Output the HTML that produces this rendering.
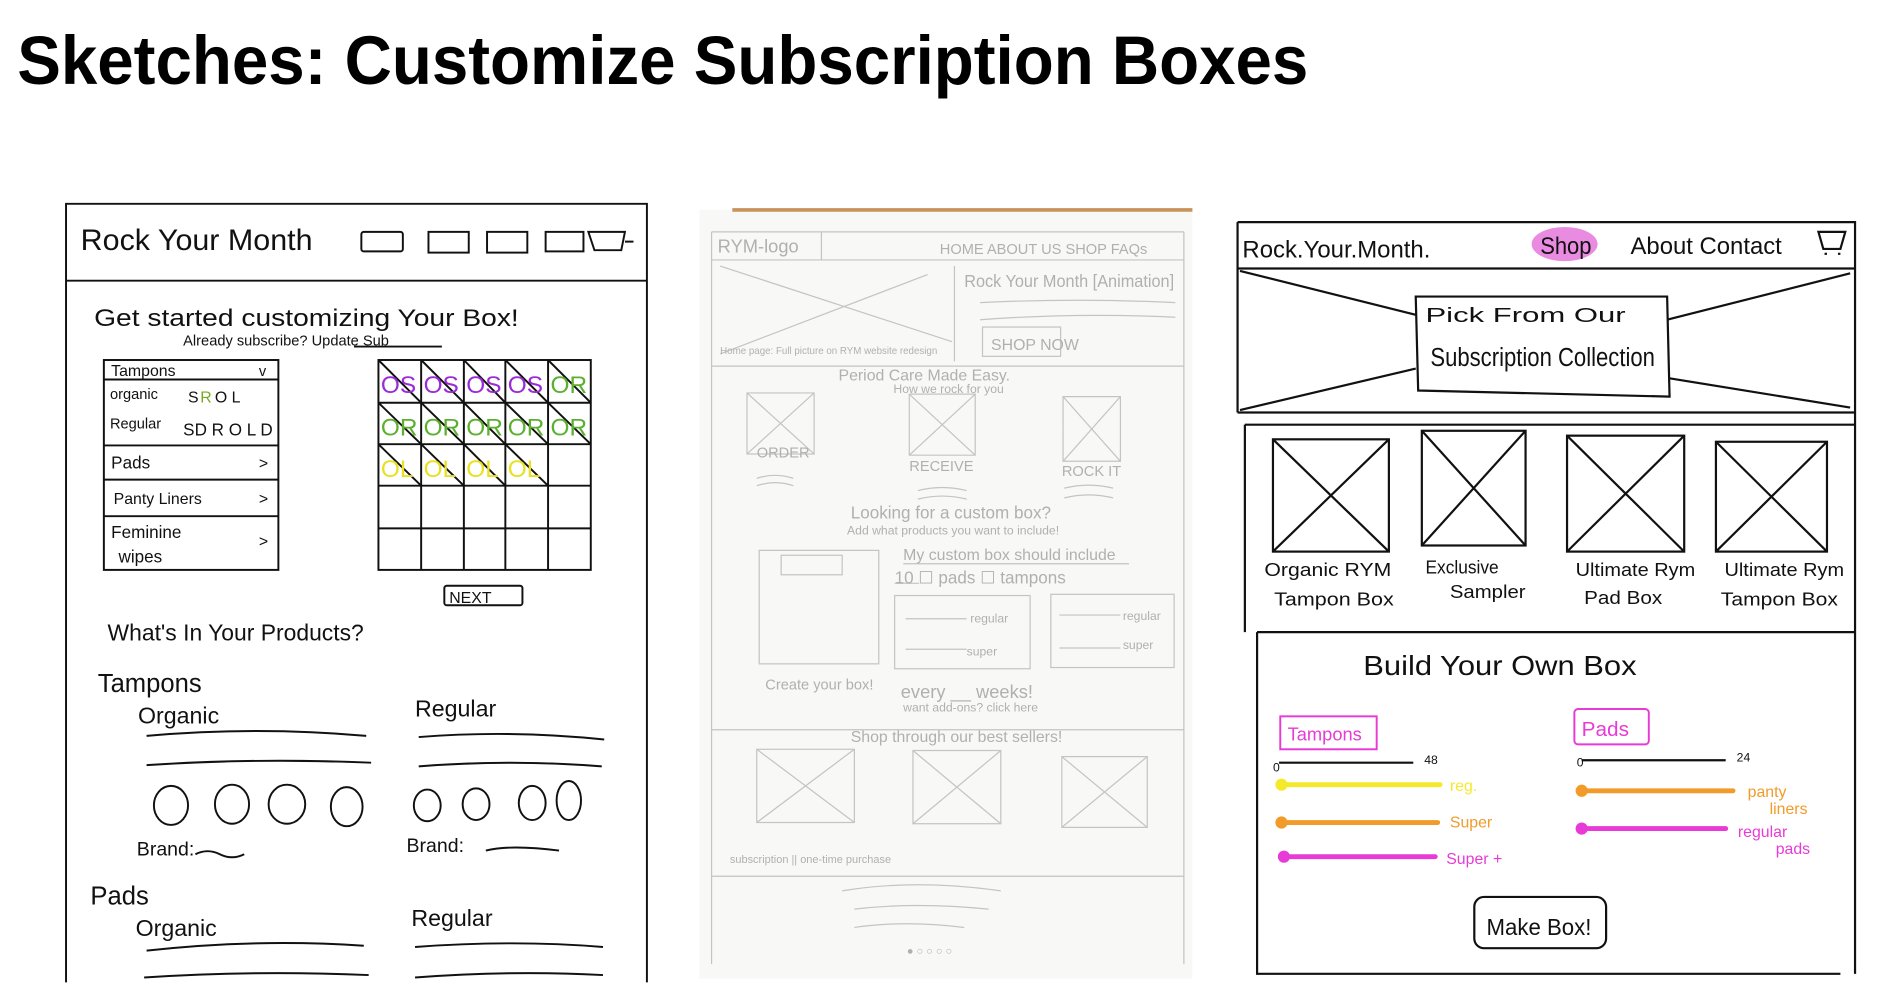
<!DOCTYPE html>
<html><head><meta charset="utf-8"><style>
html,body{margin:0;padding:0;background:#fff;width:1904px;height:1008px;overflow:hidden}
svg{display:block}
text{font-family:"Liberation Sans",sans-serif}
.h{font-family:"Liberation Sans Narrow","Liberation Sans",sans-serif}
</style></head><body>
<svg width="1904" height="1008" viewBox="0 0 1560 826" xmlns="http://www.w3.org/2000/svg">
<text x="14" y="69" font-size="56" font-weight="bold" textLength="1058" lengthAdjust="spacingAndGlyphs" fill="#000">Sketches: Customize Subscription Boxes</text>

<!-- Panel 1 -->
<g stroke="#111" fill="none" stroke-width="1.6">
<path d="M54 805V167H530V805"/><path d="M54 230H530"/>
<rect x="296" y="190" width="34" height="16" rx="2"/><rect x="351" y="190" width="33" height="17"/><rect x="399" y="190" width="33" height="17"/><rect x="447" y="190" width="31" height="16"/>
<path d="M482 190h30l-3 15h-22zM512 198h7"/>
<rect x="85" y="295" width="143" height="172"/><path d="M85 311H228M85 365H228M85 393H228M85 423H228"/>
<rect x="310" y="295" width="174" height="172"/>
<path d="M345 295V467M380 295V467M414 295V467M449 295V467M310 330H484M310 364H484M310 398H484M310 433H484"/>
<path d="M310 295l35 35M345 295l35 35M380 295l34 35M414 295l35 35M449 295l35 35M310 330l35 34M345 330l35 34M380 330l34 34M414 330l35 34M449 330l35 34M310 364l35 34M345 364l35 34M380 364l34 34M414 364l35 34"/>
<rect x="364" y="480" width="64" height="16" rx="2"/>
<path d="M120 603q90-8 180 0M120 627q90-6 184-2M343 604q75-6 152 2M343 628q75-6 150 0M120 779q90-10 178-4M118 801q90-6 184-2M340 776q80-6 154 0M340 801q80-6 154-2M290 284h72M160 700q10-5 20 0t20 0M398 697q20-5 60 0"/>
<ellipse cx="140" cy="660" rx="14" ry="16"/><ellipse cx="190" cy="659" rx="14" ry="16"/><ellipse cx="235" cy="659" rx="15" ry="16"/><ellipse cx="284" cy="661" rx="13" ry="16"/>
<ellipse cx="350" cy="660" rx="11" ry="13"/><ellipse cx="390" cy="659" rx="11" ry="13"/><ellipse cx="436" cy="658" rx="11" ry="14"/><ellipse cx="466" cy="656" rx="10" ry="16"/>
</g>
<g fill="#111" class="h">
<text x="66" y="205" font-size="24" textLength="190" lengthAdjust="spacingAndGlyphs">Rock Your Month</text>
<text x="77" y="267" font-size="20" textLength="348" lengthAdjust="spacingAndGlyphs">Get started customizing Your Box!</text>
<text x="150" y="283" font-size="12">Already subscribe?  Update Sub</text>
<text x="91" y="308" font-size="13">Tampons</text><text x="212" y="308" font-size="12">v</text>
<text x="90" y="327" font-size="12">organic</text><text x="154" y="330" font-size="13">S</text><text x="164" y="330" font-size="13" fill="#7a2">R</text><text x="176" y="330" font-size="13">O L</text>
<text x="90" y="351" font-size="12">Regular</text><text x="150" y="357" font-size="14">SD R O L D</text>
<text x="91" y="384" font-size="14">Pads</text><text x="212" y="384" font-size="13">&gt;</text>
<text x="93" y="413" font-size="13">Panty Liners</text><text x="212" y="413" font-size="13">&gt;</text>
<text x="91" y="441" font-size="14">Feminine</text><text x="97" y="461" font-size="14">wipes</text><text x="212" y="448" font-size="13">&gt;</text>
<text x="368" y="494" font-size="13">NEXT</text>
<text x="88" y="525" font-size="19" textLength="210" lengthAdjust="spacingAndGlyphs">What's In Your Products?</text>
<text x="80" y="567" font-size="21">Tampons</text>
<text x="113" y="593" font-size="19">Organic</text><text x="340" y="587" font-size="19">Regular</text>
<text x="112" y="701" font-size="16">Brand:</text><text x="333" y="698" font-size="16">Brand:</text>
<text x="74" y="741" font-size="21">Pads</text>
<text x="111" y="767" font-size="19">Organic</text><text x="337" y="759" font-size="19">Regular</text>
</g>
<g font-size="20" class="h">
<g fill="#9a2bd6"><text x="312" y="322">OS</text><text x="347" y="322">OS</text><text x="382" y="322">OS</text><text x="416" y="322">OS</text></g>
<g fill="#5cb030"><text x="451" y="322">OR</text><text x="312" y="357">OR</text><text x="347" y="357">OR</text><text x="382" y="357">OR</text><text x="416" y="357">OR</text><text x="451" y="357">OR</text></g>
<g fill="#e8e020"><text x="312" y="391">OL</text><text x="347" y="391">OL</text><text x="382" y="391">OL</text><text x="416" y="391">OL</text></g>
</g>

<!-- Panel 2 -->
<rect x="573" y="172" width="404" height="630" fill="#f8f8f7"/>
<path d="M600 172H977" stroke="#c8935a" stroke-width="3"/>
<g stroke="#c4c4c4" fill="none" stroke-width="1">
<path d="M583 190H970M583 213H970M583 300H970M583 598H970M583 718H970M583 190V790M970 190V790M673 190V213M782 218V296M590 218L780 280M590 290L760 225"/>
<rect x="805" y="268" width="64" height="24"/>
<path d="M803 248q80-4 160 0M803 262q80-6 160-2M612 322h55v50h-55zM612 322l55 50M667 322l-55 50M745 323h54v50h-54zM745 323l54 50M799 323l-54 50M871 325h47v53h-47zM871 325l47 53M918 325l-47 53"/>
<path d="M620 392q15-5 30 0M620 398q15-5 30 0M752 402q20-5 40 0M752 409q20-5 40 0M872 400q20-5 40 0M872 408q20-5 40 0"/>
<rect x="622" y="451" width="98" height="93"/><rect x="640" y="455" width="50" height="16"/>
<rect x="733" y="488" width="111" height="60"/><rect x="861" y="487" width="101" height="60"/>
<path d="M740 462H925M733 478h20M742 507h50M742 532h50M868 504h50M868 531h50"/>
<rect x="620" y="614" width="80" height="60"/><path d="M620 614l80 60M700 614l-80 60"/>
<rect x="748" y="615" width="72" height="60"/><path d="M748 615l72 60M820 615l-72 60"/>
<rect x="870" y="620" width="70" height="58"/><path d="M870 620l70 58M940 620l-70 58"/>
<path d="M690 730q60-10 130 0M700 745q50-6 110 0M700 760q40-6 90 0"/>
</g>
<g fill="#b0b0b0" class="h">
<text x="588" y="207" font-size="15">RYM-logo</text>
<text x="770" y="208" font-size="12">HOME  ABOUT US  SHOP  FAQs</text>
<text x="790" y="235" font-size="14" textLength="172" lengthAdjust="spacingAndGlyphs">Rock Your Month [Animation]</text>
<text x="812" y="287" font-size="13">SHOP NOW</text>
<text x="590" y="290" font-size="8">Home page: Full picture on RYM website redesign</text>
<text x="687" y="312" font-size="13">Period Care Made Easy.</text>
<text x="732" y="322" font-size="10">How we rock for you</text>
<text x="620" y="375" font-size="12">ORDER</text><text x="745" y="386" font-size="12">RECEIVE</text><text x="870" y="390" font-size="12">ROCK IT</text>
<text x="697" y="425" font-size="14">Looking for a custom box?</text>
<text x="694" y="438" font-size="10">Add what products you want to include!</text>
<text x="740" y="459" font-size="13">My custom box should include</text>
<text x="733" y="478" font-size="14">10   ☐ pads  ☐ tampons</text>
<text x="795" y="510" font-size="10">regular</text><text x="792" y="537" font-size="10">super</text>
<text x="920" y="508" font-size="10">regular</text><text x="920" y="532" font-size="10">super</text>
<text x="627" y="565" font-size="12">Create your box!</text>
<text x="738" y="572" font-size="15">every __ weeks!</text>
<text x="740" y="583" font-size="10">want add-ons? click here</text>
<text x="697" y="608" font-size="13">Shop through our best sellers!</text>
<text x="598" y="707" font-size="9">subscription || one-time purchase</text>
<text x="743" y="782" font-size="9">● ○ ○ ○ ○</text>
</g>

<!-- Panel 3 -->
<g stroke="#111" fill="none" stroke-width="1.8">
<path d="M1014 182H1520V798M1014 182V338M1014 220H1520M1014 338H1520M1020 348H1520M1020 348V518M1030 518H1520M1030 518V798H1508"/>
<path d="M1016 222L1160 258M1516 224L1366 262M1016 336L1160 302M1516 334L1368 310"/>
<path d="M1160 243L1366 243L1368 325L1162 320Z"/>
<rect x="1043" y="360" width="95" height="92"/><path d="M1043 360l95 92M1138 360l-95 92"/>
<rect x="1165" y="353" width="85" height="94"/><path d="M1165 353l85 94M1250 353l-85 94"/>
<rect x="1284" y="357" width="96" height="95"/><path d="M1284 357l96 95M1380 357l-96 95"/>
<rect x="1406" y="362" width="91" height="90"/><path d="M1406 362l91 90M1497 362l-91 90"/>
<rect x="1208" y="735" width="108" height="42" rx="8"/>
<path d="M1490 190h22l-4 14h-14zM1495 208h2M1506 208h2M1048 625h110M1296 623h118"/>
</g>
<ellipse cx="1282" cy="200" rx="27" ry="14" fill="#e98be0"/>
<g fill="#111" class="h">
<text x="1018" y="211" font-size="20" textLength="154" lengthAdjust="spacingAndGlyphs">Rock.Your.Month.</text>
<text x="1262" y="208" font-size="20" textLength="42" lengthAdjust="spacingAndGlyphs">Shop</text>
<text x="1336" y="208" font-size="20" textLength="124" lengthAdjust="spacingAndGlyphs">About  Contact</text>
<text x="1168" y="264" font-size="17" textLength="164" lengthAdjust="spacingAndGlyphs">Pick From Our</text>
<text x="1172" y="300" font-size="21" textLength="184" lengthAdjust="spacingAndGlyphs">Subscription Collection</text>
<text x="1036" y="472" font-size="15" textLength="104" lengthAdjust="spacingAndGlyphs">Organic RYM</text><text x="1044" y="496" font-size="15" textLength="98" lengthAdjust="spacingAndGlyphs">Tampon Box</text>
<text x="1168" y="470" font-size="15" textLength="60" lengthAdjust="spacingAndGlyphs">Exclusive</text><text x="1188" y="490" font-size="15" textLength="62" lengthAdjust="spacingAndGlyphs">Sampler</text>
<text x="1291" y="472" font-size="15" textLength="98" lengthAdjust="spacingAndGlyphs">Ultimate Rym</text><text x="1298" y="495" font-size="15" textLength="64" lengthAdjust="spacingAndGlyphs">Pad Box</text>
<text x="1413" y="472" font-size="15" textLength="98" lengthAdjust="spacingAndGlyphs">Ultimate Rym</text><text x="1410" y="496" font-size="15" textLength="96" lengthAdjust="spacingAndGlyphs">Tampon Box</text>
<text x="1117" y="553" font-size="23" textLength="224" lengthAdjust="spacingAndGlyphs">Build Your Own Box</text>
<text x="1043" y="632" font-size="10">0</text><text x="1167" y="626" font-size="10">48</text>
<text x="1292" y="628" font-size="10">0</text><text x="1423" y="624" font-size="10">24</text>
<text x="1218" y="766" font-size="19" textLength="86" lengthAdjust="spacingAndGlyphs">Make Box!</text>
</g>
<rect x="1049" y="587" width="79" height="27" fill="none" stroke="#e83ad6" stroke-width="1.6"/>
<text x="1055" y="607" font-size="15" fill="#e83ad6" class="h">Tampons</text>
<rect x="1290" y="581" width="61" height="29" rx="3" fill="none" stroke="#e83ad6" stroke-width="1.6"/>
<text x="1296" y="603" font-size="17" fill="#e83ad6" class="h">Pads</text>
<g stroke-width="4" stroke-linecap="round">
<path d="M1050 643H1180" stroke="#f5ea2a"/><circle cx="1050" cy="643" r="5" fill="#f5ea2a"/>
<path d="M1050 674H1178" stroke="#f29a2a"/><circle cx="1050" cy="674" r="5" fill="#f29a2a"/>
<path d="M1052 702H1176" stroke="#e83ad6"/><circle cx="1052" cy="702" r="5" fill="#e83ad6"/>
<path d="M1296 648H1420" stroke="#f29a2a"/><circle cx="1296" cy="648" r="5" fill="#f29a2a"/>
<path d="M1296 679H1414" stroke="#e83ad6"/><circle cx="1296" cy="679" r="5" fill="#e83ad6"/>
</g>
<g class="h" font-size="13">
<text x="1188" y="648" fill="#f5ea2a">reg.</text>
<text x="1188" y="678" fill="#f29a2a">Super</text>
<text x="1185" y="708" fill="#e83ad6">Super +</text>
<text x="1432" y="653" fill="#f29a2a">panty</text><text x="1450" y="667" fill="#f29a2a">liners</text>
<text x="1424" y="686" fill="#e83ad6">regular</text><text x="1455" y="700" fill="#e83ad6">pads</text>
</g>
</svg>
</body></html>
